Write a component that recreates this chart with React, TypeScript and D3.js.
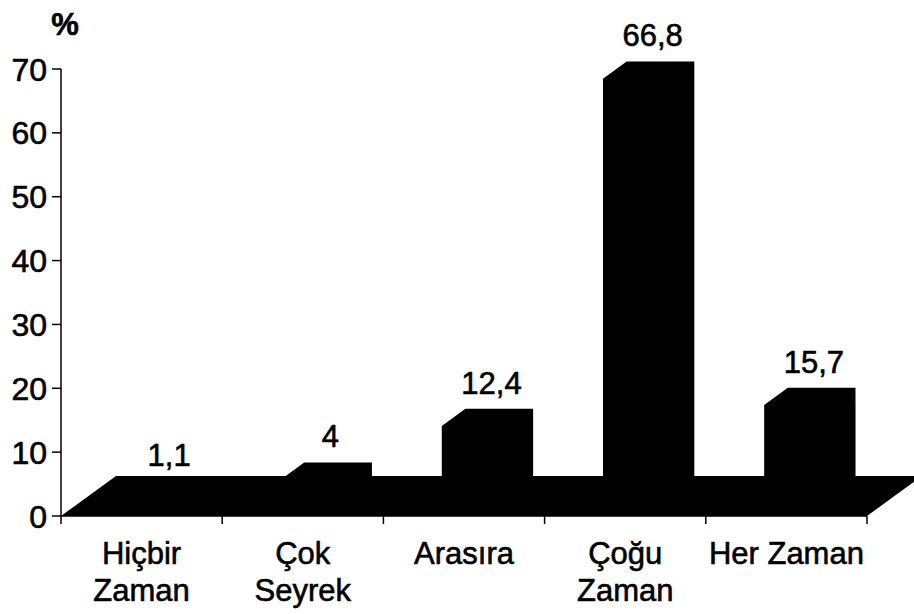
import React from "react";
import * as d3 from "d3";

const categories: string[] = ["Hiçbir\nZaman", "Çok\nSeyrek", "Arasıra", "Çoğu\nZaman", "Her Zaman"];
const values: number[] = [1.1, 4, 12.4, 66.8, 15.7];
const yTicks: number[] = [0, 10, 20, 30, 40, 50, 60, 70];
const yUnit = "%";

const W = 914;
const H = 614;
const FONT = "'Liberation Sans', Arial, Helvetica, sans-serif";

export default function App() {
  const x = d3.scaleBand<string>().domain(categories).range([61, 867]).paddingInner(0).paddingOuter(0);
  const y = d3.scaleLinear().domain([0, 70]).range([516, 69]);
  const Dx = 55;
  const Dy = -40;
  const f1 = 0.27;
  const f2 = 0.7;
  const bw = x.bandwidth();
  const barOff = bw * 0.27;
  const barW = bw * 0.42;
  const x0 = x.range()[0];
  const x1 = x.range()[1];
  const y0 = y(0);

  const floor = [
    [x0, y0],
    [x0 + Dx, y0 + Dy],
    [x1 + Dx, y0 + Dy],
    [x1, y0],
  ];
  const line = d3.line();
  const fmt = (v: number) => d3.format("~r")(v).replace(".", ",");
  const txt = { fill: "#000", stroke: "#000", strokeWidth: 0.6 };

  return (
    <svg width={W} height={H} style={{ position: "absolute", left: 0, top: 0, background: "#fff" }} fontFamily={FONT}>
      <rect x={0} y={0} width={W} height={H} fill="#fff" />
      <path d={line(floor as [number, number][]) + "Z"} fill="#000" />
      {categories.map((c, i) => {
        const v = values[i];
        const bx = (x(c) as number) + barOff;
        const fxl = bx + f1 * Dx;
        const fxr = bx + barW + f1 * Dx;
        const bxl = bx + f2 * Dx;
        const bxr = bx + barW + f2 * Dx;
        const fyb = y0 + f1 * Dy;
        const fyt = y(v) + f1 * Dy;
        const byt = y(v) + f2 * Dy;
        const byb = y0 + f2 * Dy;
        const pts: [number, number][] = [
          [fxl, fyb],
          [fxl, fyt],
          [bxl, byt],
          [bxr, byt],
          [bxr, byb],
          [fxr, fyb],
        ];
        return <path key={c} d={line(pts) + "Z"} fill="#000" />;
      })}
      {/* y axis */}
      <line x1={x0} x2={x0} y1={y(70)} y2={y0} stroke="#000" strokeWidth={1.5} />
      {yTicks.map((t) => (
        <g key={t}>
          <line x1={x0 - 9} x2={x0} y1={y(t)} y2={y(t)} stroke="#000" strokeWidth={1.5} />
          <text x={47} y={y(t)} dy="0.36em" textAnchor="end" fontSize={32} {...txt}>
            {t}
          </text>
        </g>
      ))}
      <text x={65} y={35} textAnchor="middle" fontSize={31} fontWeight="bold" {...txt}>
        {yUnit}
      </text>
      {/* x axis */}
      <line x1={x0} x2={x1} y1={y0} y2={y0} stroke="#000" strokeWidth={1.5} />
      {[...categories.map((c) => x(c) as number), x1].map((tx, i) => (
        <line key={i} x1={tx} x2={tx} y1={y0} y2={y0 + 8} stroke="#000" strokeWidth={1.5} />
      ))}
      {categories.map((c) => {
        const cx = (x(c) as number) + bw / 2;
        return (
          <text key={c} x={cx} y={564} textAnchor="middle" fontSize={31} {...txt}>
            {c.split("\n").map((ln, j) => (
              <tspan key={j} x={cx} y={564 + j * 37}>
                {ln}
              </tspan>
            ))}
          </text>
        );
      })}
      {categories.map((c, i) => (
        <text
          key={"v" + c}
          x={(x(c) as number) + bw / 2 + Dx / 2}
          y={y(values[i]) - 43}
          textAnchor="middle"
          fontSize={31}
          {...txt}
        >
          {fmt(values[i])}
        </text>
      ))}
    </svg>
  );
}
